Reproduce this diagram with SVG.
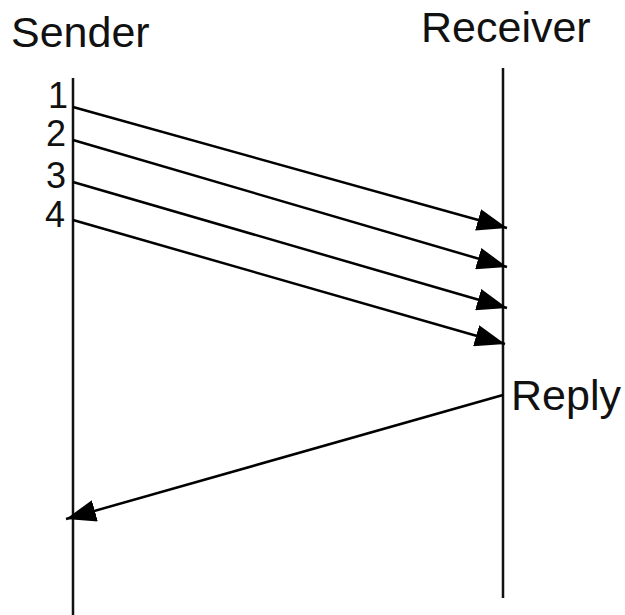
<svg xmlns="http://www.w3.org/2000/svg" width="625" height="615" viewBox="0 0 625 615">
<defs>
<marker id="ah" markerWidth="30" markerHeight="22" refX="30" refY="11" orient="auto" markerUnits="userSpaceOnUse">
<path d="M0,0 L30,11 L0,22 Z" fill="#000"/>
</marker>
<style>
text{font-family:"Liberation Sans",Arial,sans-serif;fill:#111}
.big{font-size:43px}
.num{font-size:36px}
.life{stroke:#111;stroke-width:2.5;fill:none}
.msg{stroke:#000;stroke-width:2.5;fill:none;marker-end:url(#ah)}
</style>
</defs>
<rect width="625" height="615" fill="#fff"/>
<g id="sender">
<text class="big" x="11" y="47">Sender</text>
<line class="life" x1="73" y1="78" x2="73" y2="615"/>
</g>
<g id="receiver">
<text class="big" x="421" y="42">Receiver</text>
<line class="life" x1="503" y1="68" x2="503" y2="598"/>
</g>
<g id="labels">
<text class="num" x="48" y="108">1</text>
<text class="num" x="46" y="146">2</text>
<text class="num" x="46" y="188">3</text>
<text class="num" x="45" y="227">4</text>
<text class="big" x="511" y="410">Reply</text>
</g>
<g id="connectors">
<line class="msg" x1="73" y1="107" x2="507" y2="228"/>
<line class="msg" x1="73" y1="140" x2="507" y2="267"/>
<line class="msg" x1="73" y1="182" x2="507" y2="308"/>
<line class="msg" x1="73" y1="220" x2="505" y2="344"/>
<line class="msg" x1="503" y1="395" x2="66" y2="519"/>
</g>
</svg>
